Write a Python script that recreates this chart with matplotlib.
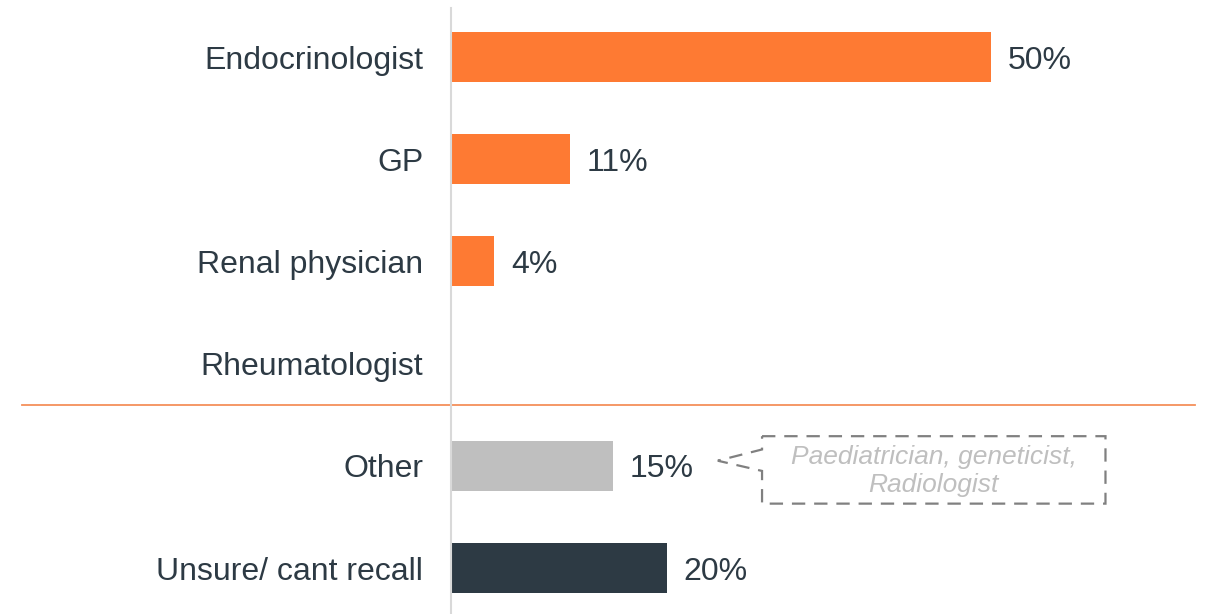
import matplotlib.pyplot as plt
from matplotlib.patches import Polygon

categories = ['Endocrinologist', 'GP', 'Renal physician', 'Rheumatologist',
              'Other', 'Unsure/ cant recall']
values = [50, 11, 4, 0, 15, 20]
colors = ['#FE7A33', '#FE7A33', '#FE7A33', '#FE7A33', '#BFBFBF', '#2D3A44']
other_note = 'Paediatrician, geneticist,\nRadiologist'

plt.rcParams['font.family'] = ['Liberation Sans', 'DejaVu Sans']
text_color = '#2D3A44'

W, H = 1205, 614
fig = plt.figure(figsize=(W / 100, H / 100), dpi=100)
ax = fig.add_axes([451 / W, 0, (1195 - 451) / W, (614 - 8) / H])

y = list(range(len(categories)))
ax.barh(y, values, height=0.49, color=colors)
for yi, v in zip(y, values):
    if v > 0:
        ax.annotate('%d%%' % v, (v, yi), xytext=(12, 0), textcoords='offset points',
                    ha='left', va='center_baseline', fontsize=23, color=text_color)

ax.set_xlim(0, (1195 - 451) / 10.8)
ax.set_ylim(5.45, -0.48)
ax.set_yticks(y)
ax.set_yticklabels(categories, fontsize=23, color=text_color)
ax.tick_params(axis='y', length=0, pad=20)
ax.set_xticks([])
for side in ['top', 'right', 'bottom']:
    ax.spines[side].set_visible(False)
ax.spines['left'].set_color('#D9D9D9')
ax.spines['left'].set_linewidth(1.5)

# separator between specialists and other answers
ax.plot([(22 - 451) / 744, 1], [3.4, 3.4], transform=ax.get_yaxis_transform(),
        color='#F4905A', lw=1.3, clip_on=False)

# dashed callout next to "Other"
x0, x1, yt, yb = 28.8, 60.6, 3.71, 4.37
callout = Polygon([(x0, yt), (x1, yt), (x1, yb), (x0, yb), (x0, 4.05),
                   (24.7, 3.95), (x0, 3.84)], closed=True, fill=False,
                  edgecolor='#808080', lw=1.6, linestyle=(0, (6, 4)))
ax.add_patch(callout)
ax.text((x0 + x1) / 2, (yt + yb) / 2 + 0.01, other_note, ha='center', va='center',
        fontsize=19, style='italic', color='#BFBFBF', linespacing=1.25)

fig.savefig('out.png', dpi=100)
